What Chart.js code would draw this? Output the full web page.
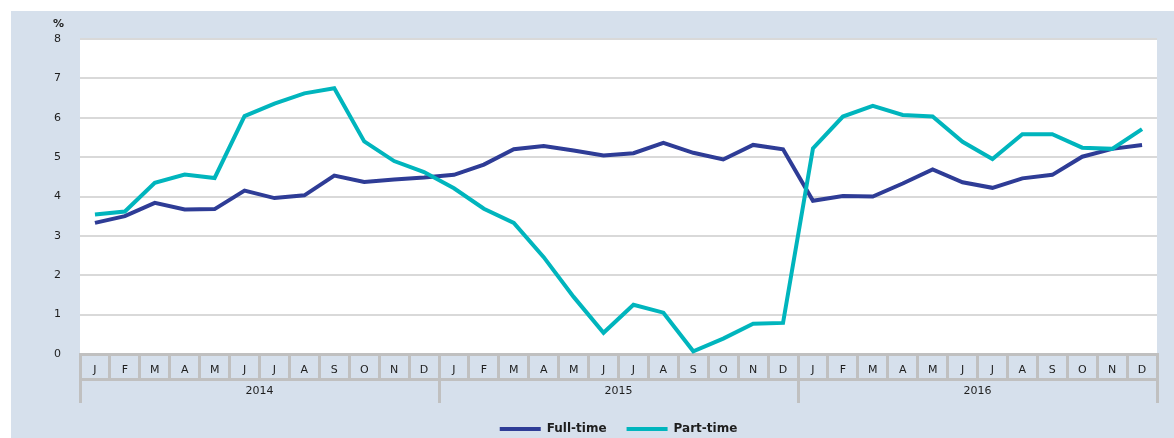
<!DOCTYPE html>
<html>
<head>
<meta charset="utf-8">
<script src="https://cdn.jsdelivr.net/npm/chart.js@4.4.1/dist/chart.umd.min.js"></script>
<style>
  html, body { margin: 0; padding: 0; background: #fff; }
</style>
</head>
<body>
<canvas id="chart" width="1174" height="438"></canvas>
<script>
// monthly values, Jan 2014 - Dec 2016
var months = ['J','F','M','A','M','J','J','A','S','O','N','D',
              'J','F','M','A','M','J','J','A','S','O','N','D',
              'J','F','M','A','M','J','J','A','S','O','N','D'];
var years = ['2014', '2015', '2016'];

var fullTime = [3.33, 3.50, 3.84, 3.67, 3.68, 4.15, 3.96, 4.03, 4.53, 4.37, 4.43, 4.48,
                4.55, 4.81, 5.20, 5.28, 5.17, 5.04, 5.10, 5.36, 5.11, 4.94, 5.31, 5.20,
                3.89, 4.01, 4.00, 4.33, 4.69, 4.36, 4.22, 4.46, 4.55, 5.01, 5.21, 5.31];
var partTime = [3.54, 3.62, 4.35, 4.56, 4.47, 6.04, 6.36, 6.62, 6.75, 5.40, 4.90, 4.62,
                4.21, 3.69, 3.33, 2.46, 1.45, 0.54, 1.25, 1.05, 0.07, 0.39, 0.77, 0.79,
                5.22, 6.03, 6.30, 6.07, 6.03, 5.39, 4.95, 5.58, 5.58, 5.24, 5.21, 5.71];

var panelColor = '#d6e0ec';
var cellLine = '#c0c0c0';
var textColor = '#1e1e1e';
var fontName = 'DejaVu Sans';

// panel background, white plot area and the "%" unit label
var backdrop = {
  id: 'backdrop',
  beforeDraw: function(chart) {
    var ctx = chart.ctx, a = chart.chartArea;
    ctx.save();
    ctx.fillStyle = panelColor;
    ctx.fillRect(11, 11, chart.width - 11, chart.height - 11);
    ctx.fillStyle = '#ffffff';
    ctx.fillRect(a.left, a.top, a.right - a.left, a.bottom - a.top);
    ctx.restore();
  },
  afterDraw: function(chart) {
    var ctx = chart.ctx;
    ctx.save();
    ctx.fillStyle = textColor;
    ctx.font = 'bold 11px "' + fontName + '"';
    ctx.textAlign = 'left';
    ctx.textBaseline = 'middle';
    ctx.fillText('%', 53, 24);
    ctx.restore();
  }
};

new Chart(document.getElementById('chart'), {
  type: 'line',
  data: {
    labels: months,
    datasets: [
      {
        label: 'Full-time',
        data: fullTime,
        borderColor: '#2e3c96',
        backgroundColor: '#2e3c96',
        borderWidth: 4,
        pointRadius: 0,
        tension: 0,
        order: 2
      },
      {
        label: 'Part-time',
        data: partTime,
        borderColor: '#00b5bd',
        backgroundColor: '#00b5bd',
        borderWidth: 4,
        pointRadius: 0,
        tension: 0,
        order: 1
      }
    ]
  },
  options: {
    responsive: false,
    animation: false,
    layout: { padding: { top: 39, right: 17, left: 0, bottom: 0 } },
    scales: {
      x: {
        type: 'category',
        position: 'bottom',
        offset: true,
        weight: 0,
        grid: {
          offset: true,
          drawOnChartArea: false,
          drawTicks: true,
          tickLength: 25,
          color: cellLine,
          lineWidth: 3
        },
        border: { display: true, color: cellLine, width: 3 },
        ticks: {
          color: textColor,
          font: { family: fontName, size: 11 },
          padding: -15,
          maxRotation: 0,
          autoSkip: false
        },
        afterFit: function(scale) { scale.height = 25; }
      },
      year: {
        type: 'category',
        position: 'bottom',
        labels: years,
        offset: true,
        weight: 1,
        grid: {
          offset: true,
          drawOnChartArea: false,
          drawTicks: true,
          tickLength: 24,
          color: cellLine,
          lineWidth: 3
        },
        border: { display: true, color: cellLine, width: 3 },
        ticks: {
          color: textColor,
          font: { family: fontName, size: 11 },
          padding: -18,
          maxRotation: 0
        },
        afterFit: function(scale) { scale.height = 24; }
      },
      y: {
        min: 0,
        max: 8,
        ticks: {
          stepSize: 1,
          color: textColor,
          font: { family: fontName, size: 11 },
          padding: 19
        },
        grid: { color: '#d9d9d9', lineWidth: 2, drawTicks: false },
        border: { display: false },
        afterFit: function(scale) { scale.width = 80; }
      }
    },
    plugins: {
      legend: {
        position: 'bottom',
        fullSize: false,
        maxHeight: 35,
        labels: {
          usePointStyle: true,
          pointStyle: 'line',
          pointStyleWidth: 41,
          padding: 20,
          color: textColor,
          font: { family: fontName, size: 12, weight: 'bold' },
          sort: function(a, b) { return a.datasetIndex - b.datasetIndex; }
        }
      },
      tooltip: { enabled: false }
    }
  },
  plugins: [backdrop]
});
</script>
</body>
</html>
